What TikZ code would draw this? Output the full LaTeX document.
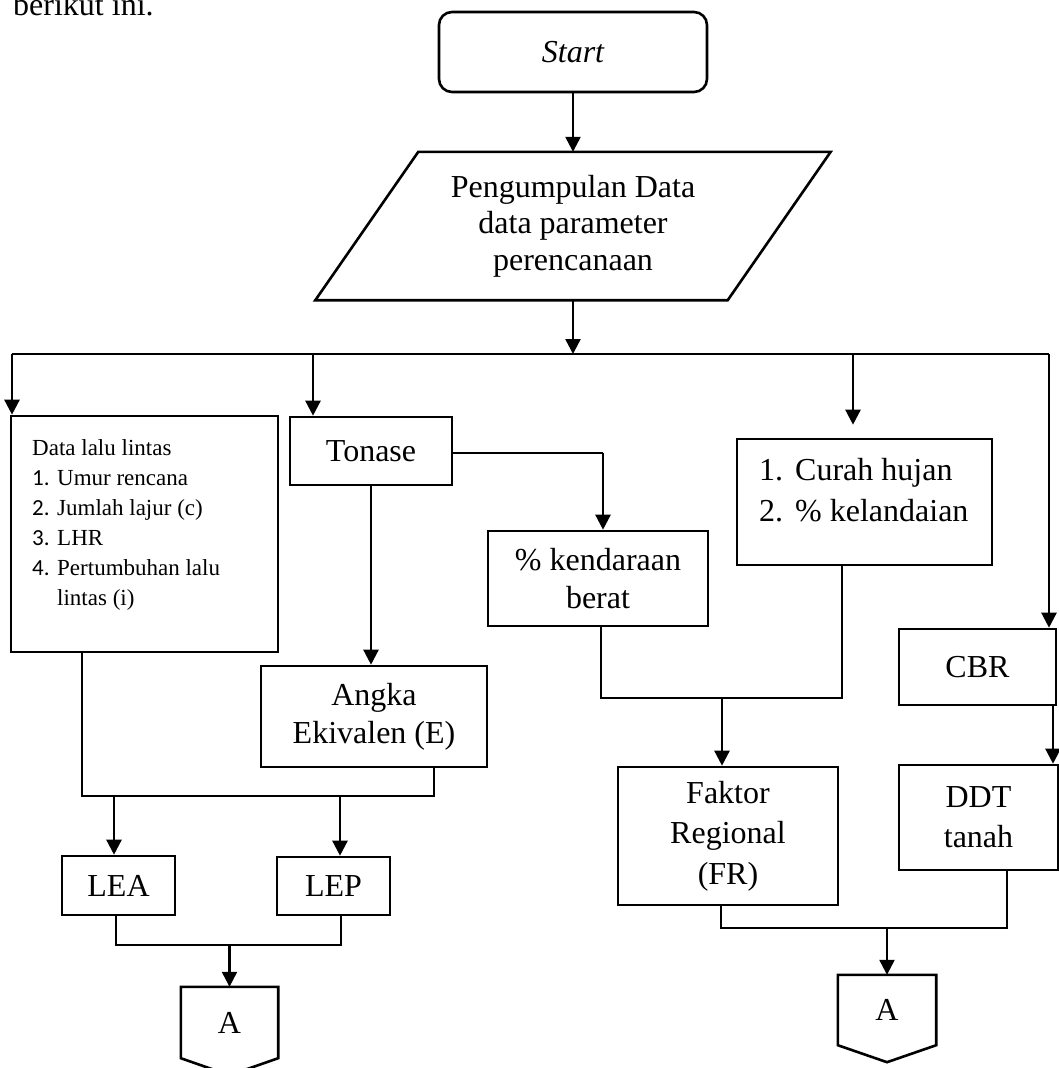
\documentclass[tikz,border=0pt]{standalone}
\usepackage{fontspec}
\setmainfont{Liberation Serif}
\newfontfamily\numfont{Carlito}
\usetikzlibrary{arrows.meta}
\begin{document}
\begin{tikzpicture}[x=1pt,y=-1pt,
  box/.style={draw,line width=2.6pt,inner sep=0pt,align=center,
    font=\fontsize{32}{38}\selectfont},
  lbl/.style={inner sep=0pt,align=center},
  arr/.style={line width=2.4pt,-{Triangle[length=15pt,width=15pt]}},
  link/.style={line width=1.3pt},
  offpage/.style={line width=2.6pt,line join=miter},
]
\useasboundingbox (0,0) rectangle (1059,1068);

% running text above the chart
\node[lbl,anchor=base west,font=\fontsize{32}{38}\selectfont] (intro) at (13,16) {berikut ini.};

% start and data collection
\node[box,rounded corners=13pt,minimum width=268pt,minimum height=80pt,
  font=\fontsize{32}{38}\selectfont\itshape] (start) at (573,52) {Start};
\node[lbl,minimum width=412pt,minimum height=148pt,font=\fontsize{32}{36.5}\selectfont]
  (para) at (573,226) {Pengumpulan Data\\data parameter\\perencanaan};
\draw[offpage] ([xshift=51.5pt]para.north west) -- ([xshift=51.5pt]para.north east)
  -- ([xshift=-51.5pt]para.south east) -- ([xshift=-51.5pt]para.south west) -- cycle;
\draw[arr] (start.south) -- (start.south |- para.north);

% distribution line
\coordinate (br) at (573,354);
\coordinate (bL) at (12,354);
\coordinate (bT) at (313,354);
\coordinate (bC) at (853,354);
\coordinate (bR) at (1049,354);
\draw[arr] (start.south |- para.south) -- (br);
\draw[link] (bL) -- (bR);

% left column: traffic data, tonnage, equivalence
\node[box,minimum width=267pt,minimum height=236pt] (data) at (144.5,534) {};
\node[lbl,anchor=base west,font=\fontsize{23}{30}\selectfont] (datatxt) at (32,455)
  {\begin{tabular}[t]{@{}l@{}}
   Data lalu lintas\\
   \makebox[25pt][l]{\numfont 1.}Umur rencana\\
   \makebox[25pt][l]{\numfont 2.}Jumlah lajur (c)\\
   \makebox[25pt][l]{\numfont 3.}LHR\\
   \makebox[25pt][l]{\numfont 4.}Pertumbuhan lalu\\
   \makebox[25pt][l]{}lintas (i)
   \end{tabular}};
\draw[arr] (bL) -- (bL |- data.north);

\node[box,minimum width=162pt,minimum height=68pt] (tonase) at (371,451) {Tonase};
\draw[arr] (bT) -- (bT |- tonase.north);

\node[box,minimum width=226pt,minimum height=101pt] (angka) at (374,716.5) {Angka\\Ekivalen (E)};
\draw[arr] (tonase.south) -- (tonase.south |- angka.north);

\node[box,minimum width=220pt,minimum height=95pt] (kend) at (598,578.5) {\%~kendaraan\\berat};
\coordinate (tk) at (603,453);
\draw[link] (tonase.east |- tk) -- (tk);
\draw[arr] (tk) -- (tk |- kend.north);

% LEA / LEP
\node[box,minimum width=113pt,minimum height=59pt] (lea) at (118.5,885.5) {LEA};
\node[box,minimum width=113pt,minimum height=58pt] (lep) at (333.5,886) {LEP};
\coordinate (mD) at (82,796);
\coordinate (mA) at (434,796);
\coordinate (mL) at (114,796);
\coordinate (mP) at (340,796);
\draw[link] (mD |- data.south) -- (mD) -- (mA) -- (mA |- angka.south);
\draw[arr] (mL) -- (mL |- lea.north);
\draw[arr] (mP) -- (mP |- lep.north);

\node[lbl,minimum width=97pt,minimum height=71pt,font=\fontsize{32}{38}\selectfont]
  (offL) at (229.5,1022.5) {A};
\draw[offpage] (offL.north west) -- (offL.north east) -- (offL.south east)
  -- ([yshift=-17pt]offL.south) -- (offL.south west) -- cycle;
\coordinate (mEA) at (116,945);
\coordinate (mEP) at (341,945);
\coordinate (mE) at (229.5,945);
\draw[link] (mEA |- lea.south) -- (mEA) -- (mEP) -- (mEP |- lep.south);
\draw[arr] (mE) -- (mE |- offL.north);

% right column: climate, regional factor, soil
\node[box,minimum width=255pt,minimum height=126pt] (curah) at (864.5,502) {};
\node[lbl,anchor=base west,font=\fontsize{32}{41}\selectfont] (curahtxt) at (759,480)
  {\begin{tabular}[t]{@{}l@{}}
   \makebox[36pt][l]{1.}Curah hujan\\
   \makebox[36pt][l]{2.}\%~kelandaian
   \end{tabular}};
\draw[arr,shorten >=13pt] (bC) -- (bC |- curah.north);

\node[box,minimum width=157pt,minimum height=76pt] (cbr) at (977.5,667) {CBR};
\node[box,minimum width=159pt,minimum height=105pt,font=\fontsize{32}{40}\selectfont]
  (ddt) at (978.5,817.5) {DDT\\tanah};
\draw[arr] (bR) -- (bR |- cbr.north);
\coordinate (cd) at (1053,705);
\draw[arr] (cd |- cbr.south) -- (cd |- ddt.north);

\node[box,minimum width=220pt,minimum height=138pt,font=\fontsize{32}{40.5}\selectfont]
  (fr) at (728,836) {Faktor\\Regional\\(FR)};
\coordinate (mK) at (601,698);
\coordinate (mC) at (842,698);
\coordinate (mF) at (722,698);
\draw[link] (mK |- kend.south) -- (mK) -- (mC) -- (mC |- curah.south);
\draw[arr] (mF) -- (mF |- fr.north);

\node[lbl,minimum width=98pt,minimum height=70pt,font=\fontsize{32}{38}\selectfont]
  (offR) at (887,1010) {A};
\draw[offpage] (offR.north west) -- (offR.north east) -- (offR.south east)
  -- ([yshift=-17pt]offR.south) -- (offR.south west) -- cycle;
\coordinate (mR) at (721,928);
\coordinate (mDD) at (1007,928);
\coordinate (mX) at (887,928);
\draw[link] (mR |- fr.south) -- (mR) -- (mDD) -- (mDD |- ddt.south);
\draw[arr] (mX) -- (mX |- offR.north);
\end{tikzpicture}
\end{document}
